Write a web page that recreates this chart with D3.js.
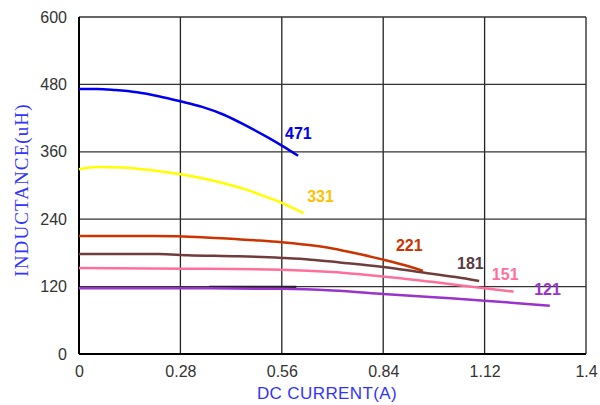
<!DOCTYPE html>
<html>
<head>
<meta charset="utf-8">
<script src="https://cdn.jsdelivr.net/npm/d3@7"></script>
<style>
  html, body { margin: 0; padding: 0; background: #fff; }
  svg { display: block; }
</style>
</head>
<body>
<svg id="chart" width="600" height="405"></svg>
<script>
// Inductance vs. DC current for each part code
const xTicks = [0, 0.28, 0.56, 0.84, 1.12, 1.4];
const yTicks = [0, 120, 240, 360, 480, 600];

const series471 = [[0,472],[0.05,472],[0.1,470],[0.16,466],[0.22,459],[0.28,450],[0.34,440],[0.40,426],[0.46,407],[0.52,386],[0.56,371],[0.605,353]];
const series331 = [[0,329],[0.05,333],[0.12,332],[0.2,327],[0.28,320],[0.34,313],[0.40,304],[0.46,293],[0.52,279],[0.56,269],[0.6,257],[0.62,251]];
const series221 = [[0,210],[0.2,210],[0.34,208],[0.42,205],[0.5,202],[0.56,199],[0.62,195],[0.7,188],[0.78,177],[0.84,168],[0.9,158],[0.95,148]];
const series181 = [[0,178],[0.22,178],[0.3,176],[0.44,174],[0.56,171],[0.64,168],[0.72,163],[0.84,155],[0.94,146],[1.04,137],[1.105,130]];
const series151 = [[0,153],[0.3,152],[0.56,150],[0.7,146],[0.84,138],[0.98,128],[1.12,117],[1.2,111]];
const series121 = [[0,117],[0.3,117],[0.56,116],[0.7,113],[0.84,107],[0.98,101],[1.12,95],[1.3,86]];
const segmentDark = [[0.36,118],[0.6,118]];

const curveNames = ["471", "331", "221", "181", "151", "121"];
const curveColors = ["#0000f0", "#ffff00", "#cc3300", "#703c3c", "#ff6f9c", "#9933cc"];
const labelColors = ["#0000f0", "#ffc000", "#cc3300", "#5a3a44", "#ff6f9c", "#9933cc"];
// label anchor (left baseline) in data units: current, inductance
const labelAt = [[0.569, 383], [0.630, 271], [0.875, 183], [1.044, 151], [1.14, 131], [1.257, 105]];

const svg = d3.select("#chart");
const margin = { left: 79, top: 17, right: 14, bottom: 51 };
const W = 600, H = 405;

const x = d3.scaleLinear().domain([0, 1.4]).range([margin.left, W - margin.right]);
const y = d3.scaleLinear().domain([0, 600]).range([H - margin.bottom, margin.top]);

// grid
const grid = svg.append("g");
grid.selectAll("line.v").data(xTicks).join("line")
  .attr("x1", d => x(d)).attr("x2", d => x(d))
  .attr("y1", y(0)).attr("y2", y(600))
  .attr("stroke", "#222").attr("stroke-width", 1.3);
grid.selectAll("line.h").data(yTicks).join("line")
  .attr("y1", d => y(d)).attr("y2", d => y(d))
  .attr("x1", x(0)).attr("x2", x(1.4))
  .attr("stroke", "#333").attr("stroke-width", 1.3);
grid.append("line").attr("x1", x(0)).attr("x2", x(1.4)).attr("y1", y(0)).attr("y2", y(0))
  .attr("stroke", "#000").attr("stroke-width", 2);
grid.append("line").attr("x1", x(0)).attr("x2", x(0)).attr("y1", y(0)).attr("y2", y(600))
  .attr("stroke", "#000").attr("stroke-width", 2);

// axes (labels only)
const xAxis = d3.axisBottom(x).tickValues(xTicks).tickFormat(d => String(d)).tickSize(0).tickPadding(12);
const yAxis = d3.axisLeft(y).tickValues(yTicks).tickFormat(d => String(d)).tickSize(0).tickPadding(12);
const gx = svg.append("g").attr("transform", `translate(0,${y(0)})`).call(xAxis);
const gy = svg.append("g").attr("transform", `translate(${x(0)},0)`).call(yAxis);
[gx, gy].forEach(g => {
  g.select(".domain").remove();
  g.selectAll("text").attr("font-family", "Liberation Sans, Arial, sans-serif")
    .attr("font-size", 16).attr("fill", "#333");
});

// curves
const line = d3.line().x(d => x(d[0])).y(d => y(d[1])).curve(d3.curveMonotoneX);
const allSeries = [series471, series331, series221, series181, series151, series121];
svg.append("path").attr("d", line(segmentDark)).attr("fill", "none")
  .attr("stroke", "#222").attr("stroke-width", 2.4).attr("transform", "translate(0,-0.8)");
allSeries.forEach((s, i) => {
  svg.append("path").attr("d", line(s)).attr("fill", "none")
    .attr("stroke", curveColors[i]).attr("stroke-width", 2.5);
});
svg.append("path").attr("d", line(segmentDark)).attr("fill", "none")
  .attr("stroke", "#222").attr("stroke-width", 1.2).attr("transform", "translate(0,-1.2)");

// curve labels
svg.selectAll("text.lbl").data(curveNames).join("text")
  .attr("x", (d, i) => x(labelAt[i][0]))
  .attr("y", (d, i) => y(labelAt[i][1]))
  .attr("font-family", "Liberation Sans, Arial, sans-serif")
  .attr("font-size", 16).attr("font-weight", "bold")
  .attr("fill", (d, i) => labelColors[i])
  .text(d => d);

// axis titles
svg.append("text").attr("x", 327).attr("y", 399)
  .attr("text-anchor", "middle")
  .attr("font-family", "Liberation Sans, Arial, sans-serif")
  .attr("font-size", 17).attr("letter-spacing", 0.4).attr("fill", "#3333ff")
  .text("DC CURRENT(A)");
svg.append("text")
  .attr("transform", "translate(28,190) rotate(-90)")
  .attr("text-anchor", "middle")
  .attr("font-family", "Liberation Serif, Times New Roman, serif")
  .attr("font-size", 19).attr("letter-spacing", 1.1).attr("fill", "#3333ff")
  .text("INDUCTANCE(uH)");
</script>
</body>
</html>
